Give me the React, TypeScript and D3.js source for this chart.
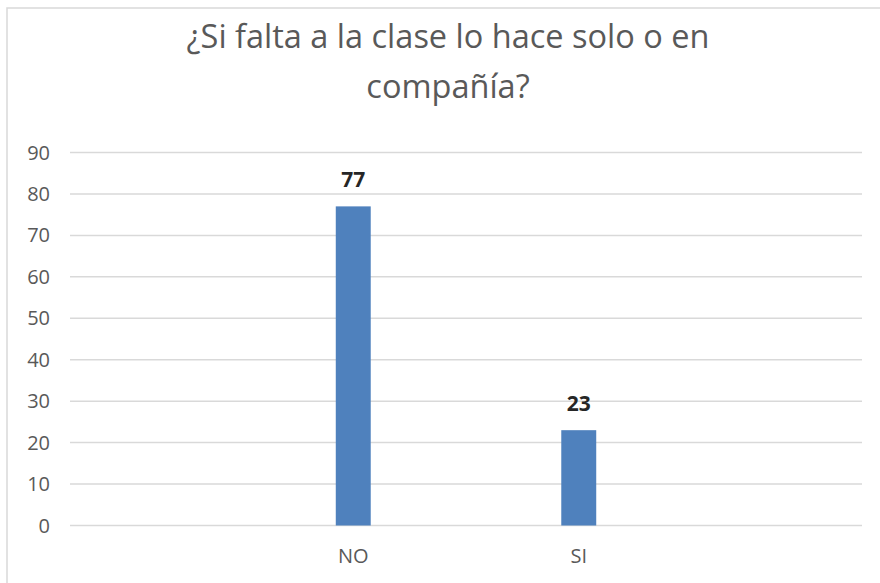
import React from "react";
import * as d3 from "d3";

const categories = ["NO", "SI"];
const values = [77, 23];
const yTicks = [0, 10, 20, 30, 40, 50, 60, 70, 80, 90];
const titleLines = ["¿Si falta a la clase lo hace solo o en", "compañía?"];

const W = 880;
const H = 583;
const FONT = "'Open Sans', 'Noto Sans', sans-serif";

export default function App() {
  const x = d3
    .scaleBand<string>()
    .domain(categories)
    .range([70, 862])
    .paddingInner(0.845)
    .paddingOuter(1.1786);
  const y = d3.scaleLinear().domain([0, 90]).range([525.5, 152.5]);

  return (
    <svg
      width={W}
      height={H}
      style={{ position: "absolute", left: 0, top: 0, background: "#fff" }}
      fontFamily={FONT}
    >
      <rect x={7} y={8} width={W + 20} height={H + 20} fill="#fff" stroke="#d9d9d9" strokeWidth={1.5} />
      {titleLines.map((t, i) => (
        <text
          key={i}
          x={448}
          y={48 + i * 50}
          textAnchor="middle"
          fontSize={32.5}
          fill="#595959"
        >
          {t}
        </text>
      ))}
      {yTicks.map((t) => (
        <g key={t}>
          <line x1={70} x2={862} y1={y(t)} y2={y(t)} stroke="#d9d9d9" strokeWidth={1.5} />
          <text x={50} y={y(t) + 7} textAnchor="end" fontSize={20} fill="#595959">
            {t}
          </text>
        </g>
      ))}
      {categories.map((c, i) => (
        <g key={c}>
          <rect
            x={x(c)!}
            y={y(values[i])}
            width={x.bandwidth()}
            height={y(0) - y(values[i])}
            fill="#4f81bd"
          />
          <text
            x={x(c)! + x.bandwidth() / 2}
            y={y(values[i]) - 19}
            textAnchor="middle"
            fontSize={21}
            fontWeight="bold"
            fill="#262626"
          >
            {values[i]}
          </text>
          <text
            x={x(c)! + x.bandwidth() / 2}
            y={563}
            textAnchor="middle"
            fontSize={20}
            fill="#595959"
          >
            {c}
          </text>
        </g>
      ))}
    </svg>
  );
}
